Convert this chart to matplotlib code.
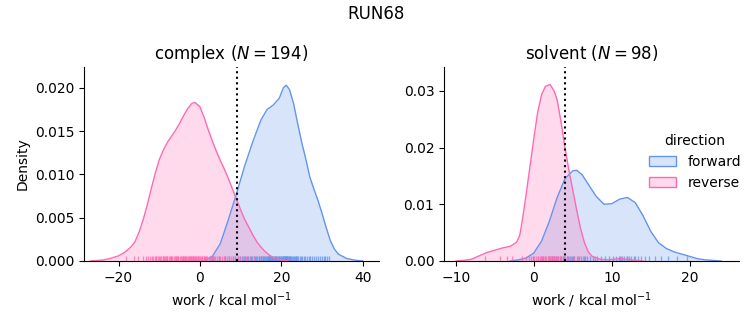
import matplotlib
matplotlib.use('Agg')
import matplotlib.pyplot as plt
import matplotlib.transforms as mtransforms
from matplotlib.colors import to_rgba
from matplotlib.patches import Patch

# Work distributions for RUN68, kcal/mol
complex_forward = [
    2.9, 4.8, 6.1, 7.2, 8.0, 8.7, 9.3, 9.8, 10.3, 10.7,
    11.1, 11.5, 11.9, 12.2, 12.6, 12.9, 13.2, 13.5, 13.8, 14.1,
    14.4, 14.6, 14.9, 15.1, 15.4, 15.6, 15.8, 16.0, 16.2, 16.4,
    16.6, 16.8, 17.0, 17.2, 17.4, 17.6, 17.8, 18.0, 18.2, 18.4,
    18.6, 18.8, 19.0, 19.2, 19.4, 19.6, 19.8, 20.0, 20.2, 20.4,
    20.5, 20.7, 20.8, 21.0, 21.1, 21.3, 21.4, 21.6, 21.8, 22.0,
    22.2, 22.4, 22.6, 22.8, 23.0, 23.3, 23.6, 23.9, 24.2, 24.5,
    24.8, 25.1, 25.5, 25.9, 26.3, 26.7, 27.1, 27.6, 28.1, 28.6,
    15.0, 16.9, 17.3, 18.5, 19.5, 20.6, 21.2, 21.5, 22.1, 23.5,
    29.0, 29.5, 30.0, 30.4, 30.8, 31.2, 31.6,
]
complex_reverse = [
    -18.2, -16.1, -14.0, -13.3, -12.8, -12.3, -11.9, -11.5, -11.1, -10.7,
    -10.4, -10.1, -9.8, -9.5, -9.2, -8.9, -8.6, -8.3, -8.0, -7.7,
    -7.4, -7.1, -6.8, -6.5, -6.2, -5.9, -5.6, -5.3, -5.0, -4.7,
    -4.4, -4.1, -3.8, -3.5, -3.3, -3.0, -2.8, -2.5, -2.3, -2.0,
    -1.8, -1.5, -1.3, -1.0, -0.8, -0.5, -0.3, 0.0, 0.3, 0.6,
    0.9, 1.2, 1.5, 1.8, 2.1, 2.4, 2.8, 3.1, 3.5, 3.8,
    4.2, 4.6, 5.0, 5.4, 5.8, 6.2, 6.7, 7.2, 7.7, 8.2,
    8.7, 9.3, 9.9, 10.6, 11.4, 12.3, 13.4, -15.2, -9.0, -6.0,
    -10.9, -8.1, -7.0, -5.4, -4.2, -3.6, -2.1, -1.7, 1.4, 3.3,
    -3.9, -1.1, 0.4, 2.6, 1.0, -2.6, -0.6,
]
solvent_forward = [
    -0.1, 1.2, 2.0, 2.6, 3.1, 3.5, 3.9, 4.3, 4.6, 4.9,
    5.2, 5.5, 5.8, 6.1, 6.4, 6.8, 7.2, 7.6, 8.1, 8.6,
    9.1, 9.6, 10.1, 10.5, 10.9, 11.3, 11.6, 11.9, 12.2, 12.5,
    12.9, 13.3, 13.7, 14.2, 14.8, 15.5, 16.3, 17.2, 18.4, 19.7,
    5.0, 6.6, 7.9, 11.1, 12.0, 3.7, 4.4, 2.3, 13.0,
]
solvent_reverse = [
    -6.2, -4.3, -3.4, -2.8, -1.5, -1.0, -0.6, -0.3, 0.0, 0.3,
    0.5, 0.8, 1.0, 1.2, 1.4, 1.6, 1.8, 2.0, 2.1, 2.3,
    2.4, 2.6, 2.8, 2.9, 3.1, 3.3, 3.5, 3.7, 3.9, 4.2,
    4.5, 4.8, 5.2, 5.7, 6.3, 11.2, 12.0, 1.9, 2.2, 2.5,
    0.9, 1.5, 2.7, 3.0, 1.1, 0.6, 2.0, 3.4, 4.0,
]

# KDE curves (x, density) for each phase / direction
complex_fwd_x = [1.0, 3.0, 5.0, 7.0, 9.0, 11.0, 13.0, 15.0, 16.5, 18.0, 19.5, 20.5, 21.2,
                 22.0, 23.0, 24.0, 25.0, 26.0, 27.0, 28.0, 29.0, 30.0, 31.0, 32.0, 33.0,
                 34.0, 36.0, 38.0, 40.0]
complex_fwd_d = [0.0, 0.0005, 0.0020, 0.0048, 0.0078, 0.0110, 0.0138, 0.0163, 0.0175,
                 0.0180, 0.0188, 0.0200, 0.0203, 0.0198, 0.0182, 0.0159, 0.0137, 0.0118,
                 0.0097, 0.0083, 0.0070, 0.0055, 0.0039, 0.0024, 0.0014, 0.0008, 0.0003,
                 0.0001, 0.0]
complex_rev_x = [-27, -24, -22, -20, -18.5, -17, -16, -15, -14, -13, -12, -11, -10, -9,
                 -8, -7, -6, -5, -4, -3, -2, -1.2, 0, 1, 2, 3, 4, 5, 6, 7, 8, 9, 10, 11,
                 12, 13, 14, 15, 16, 17, 18, 20, 22]
complex_rev_d = [0.0, 0.0001, 0.0003, 0.0006, 0.0010, 0.0016, 0.0022, 0.0033, 0.0047,
                 0.0064, 0.0083, 0.0101, 0.0117, 0.0128, 0.0137, 0.0144, 0.0151, 0.0159,
                 0.0168, 0.0176, 0.0182, 0.0183, 0.0178, 0.0166, 0.0152, 0.0139, 0.0127,
                 0.0116, 0.0106, 0.0095, 0.0083, 0.0071, 0.0059, 0.0048, 0.0039, 0.0030,
                 0.0022, 0.0016, 0.0011, 0.0007, 0.0004, 0.0001, 0.0]
solvent_fwd_x = [-3, -2, -1, 0, 1, 2, 3, 4, 5, 5.5, 6.2, 7, 8, 9, 10, 11, 12, 13, 14,
                 15, 16, 17, 18, 19, 20, 21, 22, 24]
solvent_fwd_d = [0.0, 0.0002, 0.0005, 0.0014, 0.0035, 0.0070, 0.0112, 0.0145, 0.0159,
                 0.0160, 0.0152, 0.0135, 0.0114, 0.0100, 0.0101, 0.0109, 0.0112, 0.0103,
                 0.0080, 0.0052, 0.0032, 0.0022, 0.0016, 0.0012, 0.0008, 0.0004, 0.0002,
                 0.0]
solvent_rev_x = [-10, -9, -8, -7, -6, -5, -4, -3, -2.2, -1.8, -1.5, -1, -0.5, 0, 0.5, 1,
                 1.5, 2.1, 2.6, 3.0, 3.5, 4.0, 4.5, 5.0, 5.5, 6.0, 6.5, 7.0, 7.5, 8.5,
                 9.5, 11, 12, 13, 14]
solvent_rev_d = [0.0, 0.0001, 0.0003, 0.0009, 0.0015, 0.0019, 0.0023, 0.0026, 0.0033,
                 0.0045, 0.0068, 0.0115, 0.0165, 0.0215, 0.0262, 0.0293, 0.0308, 0.0311,
                 0.0300, 0.0284, 0.0245, 0.0200, 0.0160, 0.0125, 0.0090, 0.0057, 0.0032,
                 0.0016, 0.0008, 0.0003, 0.0002, 0.0004, 0.0003, 0.0001, 0.0]

complex_dg = 9.1
solvent_dg = 4.05

colors = {'forward': '#6495ed', 'reverse': '#ff69b4'}


def draw_phase(ax, name, fwd, rev, curves, dg):
    trans = mtransforms.blended_transform_factory(ax.transData, ax.transAxes)
    for direction, samples, (xs, ds) in zip(['forward', 'reverse'], [fwd, rev], curves):
        c = colors[direction]
        ax.fill_between(xs, ds, color=c, alpha=0.25, lw=0)
        ax.plot(xs, ds, color=c, lw=1)
        ax.vlines(samples, 0, 0.025, transform=trans, color=c, lw=1, alpha=0.75)
    ax.axvline(dg, color='k', ls=':', lw=1.5)
    ax.set_title(f'{name} ($N = {len(fwd) + len(rev)}$)', fontsize=12)
    ax.set_xlabel('work / kcal mol$^{-1}$')
    ax.spines['top'].set_visible(False)
    ax.spines['right'].set_visible(False)


fig = plt.figure(figsize=(7.53, 3.25), dpi=100)
ax1 = fig.add_axes([84 / 753, 1 - 261 / 325, 295 / 753, 194 / 325])
ax2 = fig.add_axes([444 / 753, 1 - 261 / 325, 295 / 753, 194 / 325])

draw_phase(ax1, 'complex', complex_forward, complex_reverse,
           [(complex_fwd_x, complex_fwd_d), (complex_rev_x, complex_rev_d)], complex_dg)
ax1.set_xlim(-28.5, 44)
ax1.set_ylim(0, 0.0224)
ax1.set_xticks([-20, 0, 20, 40])
ax1.set_yticks([0, 0.005, 0.010, 0.015, 0.020])
ax1.set_ylabel('Density')

draw_phase(ax2, 'solvent', solvent_forward, solvent_reverse,
           [(solvent_fwd_x, solvent_fwd_d), (solvent_rev_x, solvent_rev_d)], solvent_dg)
ax2.set_xlim(-11.5, 26.3)
ax2.set_ylim(0, 0.0342)
ax2.set_xticks([-10, 0, 10, 20])
ax2.set_yticks([0, 0.01, 0.02, 0.03])

fig.suptitle('RUN68', fontsize=12, y=0.985)

handles = [Patch(facecolor=to_rgba(c, 0.25), edgecolor=c) for c in colors.values()]
fig.legend(handles, list(colors), title='direction', frameon=False,
           loc='center left', bbox_to_anchor=(636 / 753, 1 - 162 / 325))

fig.savefig('out.png', dpi=100)
